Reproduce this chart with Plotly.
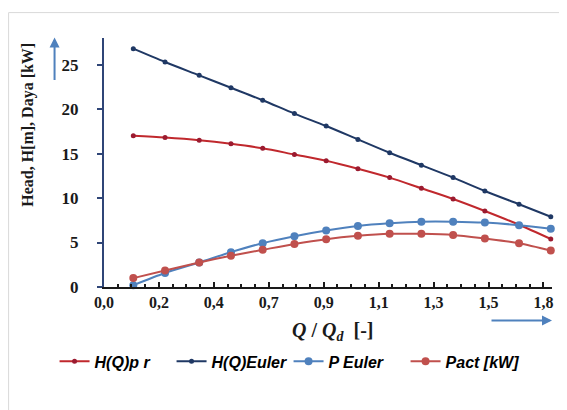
import plotly.graph_objects as go

# Data
q_ratio = [0.12, 0.25, 0.39, 0.52, 0.65, 0.78, 0.91, 1.04, 1.17, 1.30, 1.43, 1.56, 1.70, 1.83]
h_pr = [17.0, 16.8, 16.5, 16.1, 15.6, 14.9, 14.2, 13.3, 12.3, 11.1, 9.9, 8.55, 7.0, 5.4]
h_euler = [26.8, 25.3, 23.8, 22.4, 21.0, 19.5, 18.1, 16.6, 15.1, 13.7, 12.3, 10.8, 9.3, 7.9]
p_euler = [0.2, 1.57, 2.76, 3.92, 4.93, 5.71, 6.35, 6.87, 7.17, 7.35, 7.35, 7.24, 6.95, 6.54]
p_act = [1.0, 1.86, 2.76, 3.51, 4.18, 4.84, 5.38, 5.75, 5.98, 5.98, 5.86, 5.45, 4.93, 4.10]

x_tick_labels = ["0,0", "0,2", "0,4", "0,7", "0,9", "1,1", "1,3", "1,5", "1,8"]
x_tick_step = 0.225
y_ticks = [0, 5, 10, 15, 20, 25]

series = [
    ("H(Q)p r", h_pr, "#c0282d", "#9b1b30", 5),
    ("H(Q)Euler", h_euler, "#1f3864", "#1f3864", 5),
    ("P Euler", p_euler, "#4f81bd", "#4f81bd", 8),
    ("Pact [kW]", p_act, "#c0504d", "#c0504d", 8),
]

fig = go.Figure()
for name, vals, lc, mc, ms in series:
    fig.add_trace(go.Scatter(
        x=q_ratio, y=vals, name=name, mode="lines+markers",
        line=dict(color=lc, width=2, shape="spline", smoothing=0.8),
        marker=dict(color=mc, size=ms), cliponaxis=False,
    ))

# page body has an 8px margin: figure origin sits at page (8, 8)
OFF = 8
W, H = 567 - OFF, 410 - OFF
L, R, T, B = 103.5 - OFF, 552 - OFF, 37.5 - OFF, 287.3 - OFF
pw, ph = R - L, B - T

def px(x):  # page x -> paper
    return (x - OFF - L) / pw

def py(y):  # page y -> paper
    return (B - (y - OFF)) / ph

fig.update_layout(
    width=W, height=H,
    margin=dict(l=L, r=W - R, t=T, b=H - B, pad=0, autoexpand=False),
    paper_bgcolor="white", plot_bgcolor="white",
    showlegend=True,
    legend=dict(
        orientation="h", x=px(54), xanchor="left", y=py(362), yanchor="middle",
        font=dict(family="Liberation Sans", size=16, color="black", weight="bold", style="italic"),
        entrywidth=72, entrywidthmode="pixels", itemclick=False,
    ),
    xaxis=dict(
        range=[0, 1.835], showgrid=False, zeroline=False, automargin=False,
        showline=True, linecolor="#1a1a1a", linewidth=2,
        tickvals=[i * x_tick_step for i in range(len(x_tick_labels))],
        ticktext=x_tick_labels,
        ticks="inside", ticklen=5, tickcolor="#1a1a1a", tickwidth=1.5,
        minor=dict(dtick=x_tick_step / 4, tick0=0, ticks="inside", ticklen=3, tickcolor="#1a1a1a", showgrid=False),
        tickfont=dict(family="Liberation Serif", size=16, color="#1a1a1a", weight="bold"),
    ),
    yaxis=dict(
        range=[0, 28], showgrid=False, zeroline=False, automargin=False,
        showline=True, linecolor="#2f4577", linewidth=2,
        tickvals=y_ticks,
        ticks="outside", ticklen=5, tickcolor="#2f4577", tickwidth=1.5,
        ticklabelstandoff=15,
        tickfont=dict(family="Liberation Serif", size=17, color="#1a1a1a", weight="bold"),
    ),
    shapes=[dict(
        type="rect", xref="paper", yref="paper",
        x0=px(8), x1=px(600), y0=py(440), y1=py(12),
        line=dict(color="#d9d9d9", width=1), fillcolor="rgba(0,0,0,0)", layer="below",
    )],
    annotations=[
        dict(text="Head, H[m], Daya [kW]", textangle=-90, xref="paper", yref="paper",
             x=px(28), y=py(125), xanchor="center", yanchor="middle", showarrow=False,
             font=dict(family="Liberation Serif", size=16, color="#1a1a1a", weight="bold")),
        dict(text="<i>Q</i> / <i>Q<sub>d</sub></i>  [-]", xref="paper", yref="paper",
             x=px(332), y=py(332), xanchor="center", yanchor="middle", showarrow=False,
             font=dict(family="Liberation Serif", size=20, color="#1a1a1a", weight="bold")),
        dict(text="", xref="paper", yref="paper", x=px(54), y=py(37), ax=0, ay=44,
             showarrow=True, arrowhead=2, arrowsize=1, arrowwidth=2, arrowcolor="#4f81bd"),
        dict(text="", xref="paper", yref="paper", x=px(552), y=py(321), ax=-62, ay=0,
             showarrow=True, arrowhead=2, arrowsize=1, arrowwidth=2, arrowcolor="#4f81bd"),
    ],
)

fig.write_html("out.html")
